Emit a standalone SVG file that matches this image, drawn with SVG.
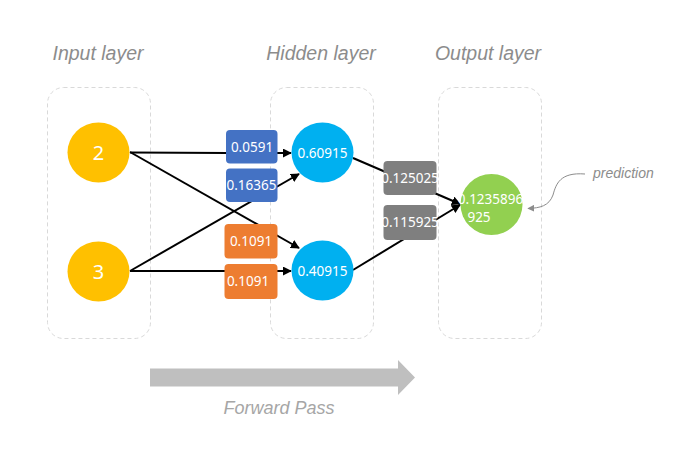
<svg xmlns="http://www.w3.org/2000/svg" width="693" height="460" viewBox="0 0 693 460">
<style>
.layer{fill:none;stroke:#d9d9d9;stroke-width:1;stroke-dasharray:4 3}
.title{font-family:"Liberation Sans",sans-serif;font-style:italic;font-size:19.5px;fill:#8c8c8c;text-anchor:middle}
.conn{stroke:#000;stroke-width:2;fill:none}
.val{font-family:"Noto Sans","Open Sans",sans-serif;font-size:13.5px;fill:#fff;text-anchor:middle}
.big{font-size:20px}
</style>
<defs>
<marker id="ah" viewBox="0 0 10 10" refX="9" refY="5" markerWidth="4.5" markerHeight="4.5" orient="auto" markerUnits="strokeWidth">
<path d="M0,0 L10,5 L0,10 z" fill="#000"/>
</marker>
<marker id="gh" viewBox="0 0 10 10" refX="9" refY="5" markerWidth="7" markerHeight="7" orient="auto" markerUnits="strokeWidth">
<path d="M0,0 L10,5 L0,10 z" fill="#8c8c8c"/>
</marker>
</defs>

<g id="layers">
<rect class="layer" x="47.5" y="87.5" width="103" height="251" rx="16"/>
<rect class="layer" x="270.5" y="87.5" width="103" height="251" rx="16"/>
<rect class="layer" x="438.5" y="87.5" width="103" height="251" rx="16"/>
<text class="title" x="98" y="60">Input layer</text>
<text class="title" x="321" y="60">Hidden layer</text>
<text class="title" x="488" y="60">Output layer</text>
</g>

<g id="connectors">
<line class="conn" x1="130" y1="152.5" x2="228" y2="153"/>
<line class="conn" x1="277" y1="153" x2="291" y2="153" marker-end="url(#ah)"/>
<line class="conn" x1="130" y1="152" x2="299" y2="248" marker-end="url(#ah)"/>
<line class="conn" x1="130" y1="271" x2="299" y2="174" marker-end="url(#ah)"/>
<line class="conn" x1="130" y1="271" x2="228" y2="271"/>
<line class="conn" x1="277" y1="271" x2="291" y2="271" marker-end="url(#ah)"/>
<line class="conn" x1="353" y1="158" x2="460" y2="204" marker-end="url(#ah)"/>
<line class="conn" x1="353" y1="270" x2="460" y2="205" marker-end="url(#ah)"/>
</g>

<g id="in2"><ellipse cx="98.5" cy="152.5" rx="31" ry="30" fill="#ffc000"/><text class="val big" x="98.5" y="159.5">2</text></g>
<g id="in3"><ellipse cx="98.5" cy="271.5" rx="31" ry="30" fill="#ffc000"/><text class="val big" x="98.5" y="278.5">3</text></g>

<g id="w1"><rect x="226" y="130" width="51.5" height="33.5" rx="4" fill="#4472c4"/><text class="val" x="252" y="151.5">0.0591</text></g>
<g id="w2"><rect x="226" y="168.5" width="51.5" height="33.5" rx="4" fill="#4472c4"/><text class="val" x="251.5" y="189.5">0.16365</text></g>
<g id="w3"><rect x="224.5" y="224" width="53" height="34.5" rx="4" fill="#ed7d31"/><text class="val" x="251" y="245.5">0.1091</text></g>
<g id="w4"><rect x="224.5" y="264" width="53" height="35" rx="4" fill="#ed7d31"/><text class="val" x="248" y="286">0.1091</text></g>

<g id="h1"><ellipse cx="322.5" cy="152.5" rx="31" ry="30" fill="#00b0f0"/><text class="val" x="322.5" y="157.5">0.60915</text></g>
<g id="h2"><ellipse cx="322.5" cy="270.5" rx="31" ry="30" fill="#00b0f0"/><text class="val" x="322.5" y="275.5">0.40915</text></g>

<g id="w5"><rect x="383.5" y="161" width="53" height="34" rx="4" fill="#7f7f7f"/><text class="val" x="410" y="182.5">0.125025</text></g>
<g id="w6"><rect x="383.5" y="205" width="53" height="35" rx="4" fill="#7f7f7f"/><text class="val" x="410" y="227">0.115925</text></g>

<g id="out"><ellipse cx="491.5" cy="204.5" rx="31" ry="30.5" fill="#92d050"/>
<text class="val" x="490.5" y="204">0.1235896</text>
<text class="val" x="479" y="221.5">925</text></g>

<g id="prediction">
<path d="M585,174 C560,172 556,184 553,195 C549,206 540,208 528,208.5" fill="none" stroke="#8c8c8c" stroke-width="1" marker-end="url(#gh)"/>
<text x="593" y="178" font-family="Liberation Sans,sans-serif" font-style="italic" font-size="14" fill="#8c8c8c">prediction</text>
</g>

<g id="forward">
<path d="M150,368.5 L398,368.5 L398,360 L415,377.5 L398,395 L398,386.5 L150,386.5 z" fill="#bfbfbf"/>
<text x="279" y="414" font-family="Liberation Sans,sans-serif" font-style="italic" font-size="18" fill="#a6a6a6" text-anchor="middle">Forward Pass</text>
</g>
</svg>
